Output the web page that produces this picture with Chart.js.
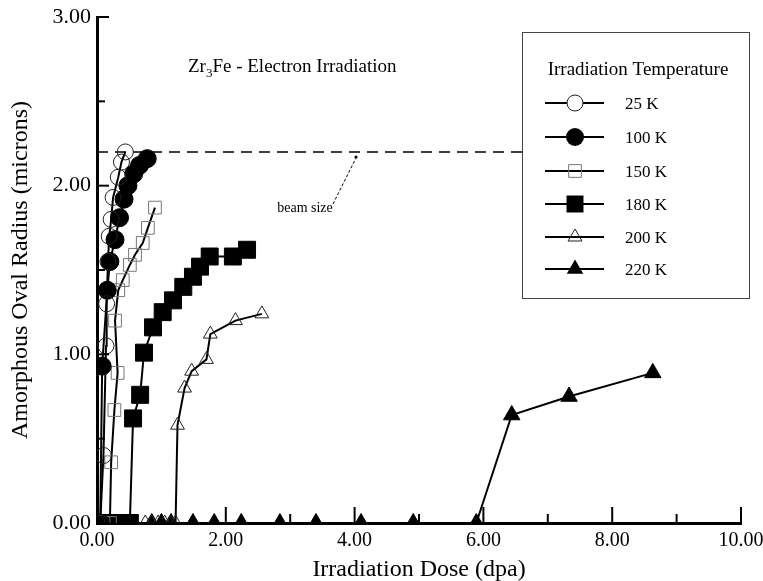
<!DOCTYPE html>
<html>
<head>
<meta charset="utf-8">
<script src="https://cdn.jsdelivr.net/npm/chart.js@4.4.1/dist/chart.umd.min.js"></script>
<style>
  html, body { margin: 0; padding: 0; background: #fff; }
  #wrap { width: 763px; height: 581px; }
</style>
</head>
<body>
<div id="wrap"><canvas id="doseChart" width="763" height="581"></canvas></div>
<script>
// Zr3Fe amorphous oval radius vs dose, per irradiation temperature
var tempLabels = ['25 K', '100 K', '150 K', '180 K', '200 K', '220 K'];

var dose25 = [0.00, 0.05, 0.10, 0.14, 0.15, 0.17, 0.19, 0.22, 0.25, 0.33, 0.38, 0.44];
var radius25 = [0.00, 0.00, 0.40, 1.05, 1.30, 1.55, 1.70, 1.80, 1.93, 2.05, 2.14, 2.20];

var dose100 = [0.00, 0.05, 0.08, 0.16, 0.20, 0.28, 0.35, 0.42, 0.48, 0.57, 0.66, 0.78];
var radius100 = [0.00, 0.00, 0.93, 1.38, 1.55, 1.68, 1.81, 1.92, 2.00, 2.07, 2.12, 2.16];

var dose150 = [0.10, 0.20, 0.22, 0.27, 0.32, 0.28, 0.33, 0.40, 0.51, 0.59, 0.71, 0.79, 0.90];
var radius150 = [0.00, 0.00, 0.36, 0.67, 0.89, 1.20, 1.38, 1.44, 1.53, 1.59, 1.66, 1.75, 1.87];

var dose180 = [0.00, 0.10, 0.20, 0.30, 0.40, 0.51, 0.56, 0.67, 0.73, 0.87, 1.02, 1.18, 1.34, 1.49, 1.60, 1.75, 2.11, 2.33];
var radius180 = [0.00, 0.00, 0.00, 0.00, 0.00, 0.00, 0.62, 0.76, 1.01, 1.16, 1.25, 1.32, 1.40, 1.46, 1.52, 1.58, 1.58, 1.62];

var dose200 = [0.75, 0.85, 0.95, 1.05, 1.15, 1.22, 1.25, 1.36, 1.47, 1.70, 1.76, 2.15, 2.56];
var radius200 = [0.00, 0.00, 0.00, 0.00, 0.00, 0.00, 0.58, 0.80, 0.90, 0.97, 1.12, 1.20, 1.24];

var dose220 = [0.85, 1.00, 1.15, 1.49, 1.82, 2.24, 2.84, 3.40, 4.10, 4.91, 5.89, 6.44, 7.33, 8.63];
var radius220 = [0.00, 0.00, 0.00, 0.00, 0.00, 0.00, 0.00, 0.00, 0.00, 0.00, 0.00, 0.64, 0.75, 0.89];

// beam size reference line
var beamDose = [0.00, 6.60];
var beamRadius = [2.20, 2.20];

var xTickValues = [0, 2, 4, 6, 8, 10];
var yTickValues = [0, 1, 2, 3];

function toPoints(xs, ys) {
    var pts = [];
    for (var i = 0; i < xs.length; i++) {
        pts.push({ x: xs[i], y: ys[i] });
    }
    return pts;
}

var serif = "'Liberation Serif', 'Times New Roman', serif";
var clear = 'rgba(0,0,0,0)';

// marker look for each temperature (used by datasets and by the drawn legend)
var markerStyles = [
    { pointStyle: 'circle', radius: 8, fill: clear, stroke: '#222', lw: 1 },
    { pointStyle: 'circle', radius: 9, fill: '#000', stroke: '#000', lw: 1 },
    { pointStyle: 'rect', radius: 9, fill: clear, stroke: '#777', lw: 1 },
    { pointStyle: 'rect', radius: 12, fill: '#000', stroke: '#000', lw: 1 },
    { pointStyle: 'triangle', radius: 8, fill: clear, stroke: '#222', lw: 1 },
    { pointStyle: 'triangle', radius: 9.5, fill: '#000', stroke: '#000', lw: 1 }
];

var seriesData = [
    toPoints(dose25, radius25),
    toPoints(dose100, radius100),
    toPoints(dose150, radius150),
    toPoints(dose180, radius180),
    toPoints(dose200, radius200),
    toPoints(dose220, radius220)
];

var datasets = [];
for (var i = 0; i < tempLabels.length; i++) {
    var m = markerStyles[i];
    datasets.push({
        label: tempLabels[i],
        data: seriesData[i],
        showLine: true,
        borderColor: '#000',
        borderWidth: 2,
        pointStyle: m.pointStyle,
        pointRadius: m.radius,
        pointBackgroundColor: m.fill,
        pointBorderColor: m.stroke,
        pointBorderWidth: m.lw,
        tension: 0
    });
}
datasets.push({
    label: 'beam size',
    data: toPoints(beamDose, beamRadius),
    showLine: true,
    borderColor: '#000',
    borderWidth: 1.5,
    borderDash: [11, 7],
    pointRadius: 0
});

function markerPath(c, ms, x, y) {
    c.beginPath();
    if (ms.pointStyle === 'circle') {
        c.arc(x, y, ms.radius, 0, Math.PI * 2);
    } else if (ms.pointStyle === 'rect') {
        var s = ms.radius * Math.SQRT1_2;
        c.rect(x - s, y - s, 2 * s, 2 * s);
    } else {
        var r = ms.radius;
        c.moveTo(x, y - r);
        c.lineTo(x + r * 0.87, y + r * 0.5);
        c.lineTo(x - r * 0.87, y + r * 0.5);
        c.closePath();
    }
}

// inward tick marks, legend box, title and the beam size note
var decorPlugin = {
    id: 'decor',
    afterDraw: function (chart) {
        var ctx = chart.ctx;
        var xs = chart.scales.x;
        var ys = chart.scales.y;
        var area = chart.chartArea;
        ctx.save();
        ctx.strokeStyle = '#000';
        ctx.lineWidth = 2;
        for (var v = 0; v <= 10; v++) {
            var px = xs.getPixelForValue(v);
            var len = v % 2 === 0 ? 16 : 9;
            ctx.beginPath();
            ctx.moveTo(px, area.bottom);
            ctx.lineTo(px, area.bottom - len);
            ctx.stroke();
        }
        for (var w = 0; w <= 6; w++) {
            var py = ys.getPixelForValue(w / 2);
            var l2 = w % 2 === 0 ? 12 : 8;
            ctx.beginPath();
            ctx.moveTo(area.left, py);
            ctx.lineTo(area.left + l2, py);
            ctx.stroke();
        }

        // chart title with subscript
        ctx.fillStyle = '#000';
        ctx.textBaseline = 'alphabetic';
        ctx.textAlign = 'left';
        var tx = 188, ty = 72;
        ctx.font = '19px ' + serif;
        ctx.fillText('Zr', tx, ty);
        tx += ctx.measureText('Zr').width;
        ctx.font = '13px ' + serif;
        ctx.fillText('3', tx, ty + 5);
        tx += ctx.measureText('3').width;
        ctx.font = '19px ' + serif;
        ctx.fillText('Fe - Electron Irradiation', tx, ty);

        // beam size note with leader line
        ctx.font = '14px ' + serif;
        ctx.textAlign = 'center';
        ctx.fillText('beam size', 305, 212);
        ctx.lineWidth = 1;
        ctx.setLineDash([3, 2]);
        ctx.beginPath();
        ctx.moveTo(333, 204);
        ctx.lineTo(356, 158);
        ctx.stroke();
        ctx.setLineDash([]);
        ctx.beginPath();
        ctx.arc(356, 157, 1.6, 0, Math.PI * 2);
        ctx.fill();

        // legend box
        var bx = 522, by = 32, bw = 227, bh = 266;
        ctx.fillStyle = '#fff';
        ctx.fillRect(bx, by, bw, bh);
        ctx.strokeStyle = '#444';
        ctx.lineWidth = 1;
        ctx.strokeRect(bx + 0.5, by + 0.5, bw, bh);
        ctx.fillStyle = '#000';
        ctx.textAlign = 'center';
        ctx.font = '19px ' + serif;
        ctx.fillText('Irradiation Temperature', 638, 75);
        var rowY = [103, 137, 171, 204, 237, 269];
        ctx.textAlign = 'left';
        for (var k = 0; k < tempLabels.length; k++) {
            var ms = markerStyles[k];
            ctx.strokeStyle = '#000';
            ctx.lineWidth = 2;
            ctx.beginPath();
            ctx.moveTo(545, rowY[k]);
            ctx.lineTo(604, rowY[k]);
            ctx.stroke();
            markerPath(ctx, ms, 575, rowY[k]);
            if (ms.fill === clear) {
                if (ms.pointStyle === 'circle') {
                    ctx.fillStyle = '#fff';
                    ctx.fill();
                }
                ctx.strokeStyle = ms.stroke;
                ctx.lineWidth = ms.lw;
                ctx.stroke();
            } else {
                ctx.fillStyle = ms.fill;
                ctx.fill();
            }
            ctx.fillStyle = '#000';
            ctx.font = '17px ' + serif;
            ctx.fillText(tempLabels[k], 625, rowY[k] + 6);
        }
        ctx.restore();
    }
};

var ctx = document.getElementById('doseChart').getContext('2d');
var doseChart = new Chart(ctx, {
    type: 'scatter',
    data: { datasets: datasets },
    options: {
        responsive: false,
        animation: false,
        events: [],
        layout: { padding: { top: 17, right: 22, left: 0, bottom: 0 } },
        plugins: {
            legend: { display: false },
            tooltip: { enabled: false }
        },
        scales: {
            x: {
                type: 'linear',
                min: 0,
                max: 10,
                afterFit: function (scale) {
                    scale.height = 58;
                    scale.paddingLeft = 0;
                    scale.paddingRight = 0;
                },
                afterBuildTicks: function (scale) {
                    scale.ticks = xTickValues.map(function (v) { return { value: v }; });
                },
                ticks: {
                    padding: 6,
                    color: '#000',
                    font: { family: serif, size: 20 },
                    maxRotation: 0,
                    callback: function (v) { return Number(v).toFixed(2); }
                },
                grid: { drawOnChartArea: false, drawTicks: false },
                border: { color: '#000', width: 3 },
                title: {
                    display: true,
                    text: 'Irradiation Dose (dpa)',
                    color: '#000',
                    font: { family: serif, size: 24 },
                    padding: { top: 0, bottom: -3 }
                }
            },
            y: {
                type: 'linear',
                min: 0,
                max: 3,
                afterFit: function (scale) {
                    scale.width = 97;
                    scale.paddingTop = 0;
                    scale.paddingBottom = 0;
                },
                afterBuildTicks: function (scale) {
                    scale.ticks = yTickValues.map(function (v) { return { value: v }; });
                },
                ticks: {
                    padding: 6,
                    color: '#000',
                    font: { family: serif, size: 22 },
                    callback: function (v) { return Number(v).toFixed(2); }
                },
                grid: { drawOnChartArea: false, drawTicks: false },
                border: { color: '#000', width: 3 },
                title: {
                    display: true,
                    text: 'Amorphous Oval Radius (microns)',
                    color: '#000',
                    font: { family: serif, size: 24 },
                    padding: { top: 6, bottom: 0 }
                }
            }
        }
    },
    plugins: [decorPlugin]
});
</script>
</body>
</html>
